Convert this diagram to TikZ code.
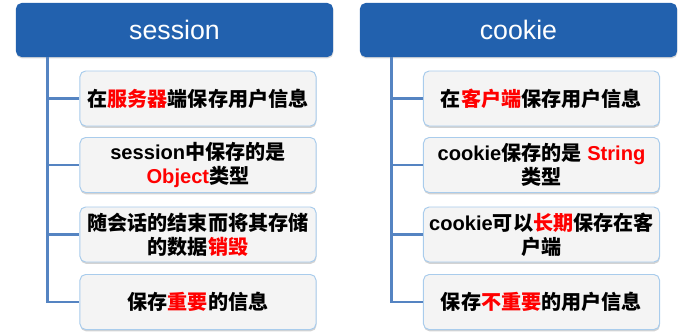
\documentclass[tikz,border=0pt]{standalone}
\usepackage{fontspec}
\setmainfont{Liberation Sans}
\newfontfamily\cjk{Noto Sans CJK SC}
\usetikzlibrary{shadows}

\definecolor{headblue}{HTML}{2261AE}
\definecolor{trunkblue}{HTML}{5584C2}
\definecolor{boxline}{HTML}{A9CCEC}
\definecolor{boxfill}{HTML}{F4F4F4}
\newcommand{\hl}[1]{\textcolor{red}{#1}}

\begin{document}
\begin{tikzpicture}[x=0.025cm,y=-0.025cm,
    head/.style={rectangle, rounded corners=4pt, fill=headblue, text=white,
      minimum width=7.925cm, minimum height=1.35cm,
      drop shadow={shadow xshift=0.3pt, shadow yshift=-1pt, opacity=0.3},
      font=\fontsize{19}{22}\selectfont},
    item/.style={rectangle, rounded corners=4pt, draw=boxline, line width=0.7pt,
      fill=boxfill, minimum width=5.9cm, minimum height=1.375cm, align=center,
      drop shadow={shadow xshift=0.3pt, shadow yshift=-1.3pt, opacity=0.35},
      font=\fontsize{14.3}{17}\selectfont\bfseries},
    branch/.style={trunkblue, line width=1.8pt}]
  \useasboundingbox (0,0) rectangle (687,335);

  % Headers
  \node[head] (sesshead) at (174.5,30) {session};
  \node[head] (cookhead) at (518.5,30) {cookie};

  % session side
  \node[item] (s1) at (198,98.5) {{\cjk 在}\hl{\cjk 服务器}{\cjk 端保存用户信息}};
  \node[item] (s2) at (198,165) {session{\cjk 中保存的是}\\\hl{Object}{\cjk 类型}};
  \node[item] (s3) at (198,234.5) {{\cjk 随会话的结束而将其存储}\\{\cjk 的数据}\hl{\cjk 销毁}};
  \node[item] (s4) at (198,302) {{\cjk 保存}\hl{\cjk 重要}{\cjk 的信息}};

  % cookie side
  \node[item] (c1) at (541.5,98.5) {{\cjk 在}\hl{\cjk 客户端}{\cjk 保存用户信息}};
  \node[item] (c2) at (541.5,165) {cookie{\cjk 保存的是} \hl{String}\\{\cjk 类型}};
  \node[item] (c3) at (541.5,234.5) {cookie{\cjk 可以}\hl{\cjk 长期}{\cjk 保存在客}\\{\cjk 户端}};
  \node[item] (c4) at (541.5,302) {{\cjk 保存}\hl{\cjk 不重要}{\cjk 的用户信息}};

  % Trunks and branches
  \coordinate (strunk) at ([xshift=0.8cm]sesshead.south west);
  \coordinate (ctrunk) at ([xshift=0.8cm]cookhead.south west);
  \foreach \n in {s1,s2,s3,s4}
    \draw[branch] (strunk) |- (\n.west);
  \foreach \n in {c1,c2,c3,c4}
    \draw[branch] (ctrunk) |- (\n.west);
\end{tikzpicture}
\end{document}
